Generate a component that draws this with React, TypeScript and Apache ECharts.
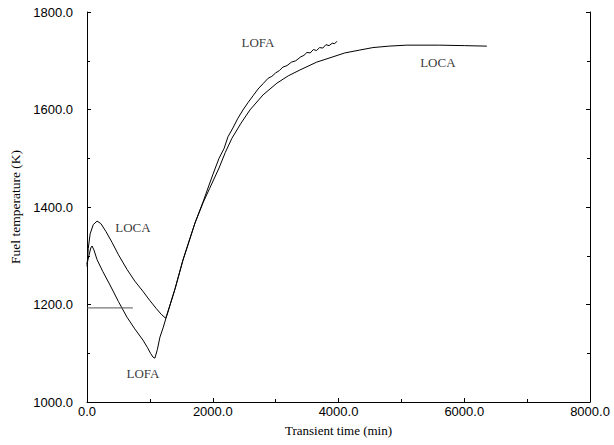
import React, { useEffect, useRef } from "react";
import * as echarts from "echarts";

const lofaTime = [0, 30, 60, 80, 110, 160, 250, 366, 500, 636, 760, 890, 960, 1010, 1050, 1080, 1120, 1160, 1210, 1270, 1400, 1526, 1717, 1850, 1908, 2000, 2100, 2180, 2242, 2320, 2400, 2480, 2560, 2640, 2720, 2800, 2880, 2940, 3000, 3060, 3116, 3180, 3250, 3320, 3400, 3450, 3498, 3550, 3600, 3650, 3700, 3750, 3800, 3850, 3900, 3940, 3975];
const lofaTemp = [1283, 1300, 1316, 1320, 1312, 1292, 1268, 1240, 1206, 1174, 1150, 1127, 1112, 1100, 1092, 1090, 1108, 1133, 1152, 1178, 1232, 1291, 1367, 1412, 1433, 1466, 1500, 1520, 1544, 1562, 1582, 1599, 1614, 1628, 1642, 1653, 1664, 1668, 1675, 1680, 1687, 1690, 1697, 1700, 1708, 1711, 1717, 1716, 1723, 1721, 1727, 1726, 1733, 1731, 1736, 1735, 1740];

const locaTime = [0, 20, 50, 100, 160, 220, 300, 400, 500, 636, 760, 890, 1000, 1100, 1180, 1250, 1270, 1400, 1526, 1717, 1850, 1950, 2100, 2200, 2305, 2450, 2591, 2800, 3020, 3200, 3386, 3650, 3911, 4100, 4340, 4547, 4800, 5087, 5612, 6000, 6359];
const locaTemp = [1278, 1315, 1345, 1364, 1371, 1366, 1350, 1327, 1302, 1272, 1248, 1227, 1208, 1192, 1180, 1172, 1178, 1232, 1291, 1367, 1410, 1438, 1480, 1512, 1541, 1572, 1599, 1630, 1654, 1669, 1681, 1697, 1708, 1716, 1722, 1727, 1730, 1732, 1732, 1731, 1730];

const refLineTime = [0, 730];
const refLineTemp = [1193, 1193];

const labelNames = ["LOFA", "LOCA", "LOCA", "LOFA"];
const labelTime = [2719, 5580, 731, 890];
const labelTemp = [1738, 1697, 1357, 1059];

const xTicks = { min: 0, max: 8000, interval: 2000 };
const yTicks = { min: 1000, max: 1800, interval: 200 };

const zip = (a: number[], b: number[]) => a.map((v, i) => [v, b[i]]);

export default function App() {
  const ref = useRef<HTMLDivElement>(null);
  useEffect(() => {
    if (!ref.current) return;
    const chart = echarts.init(ref.current, null, { renderer: "svg" });
    const tickFont = { color: "#000", fontFamily: "Liberation Sans, Arial, sans-serif", fontSize: 13 };
    const lineStyle = { color: "#000", width: 1 };
    chart.setOption({
      animation: false,
      backgroundColor: "#fff",
      grid: { left: 87, right: 24, top: 12, bottom: 43 },
      xAxis: {
        type: "value",
        min: xTicks.min,
        max: xTicks.max,
        interval: xTicks.interval,
        name: "Transient time (min)",
        nameLocation: "middle",
        nameGap: 22,
        nameTextStyle: { color: "#000", fontFamily: "Liberation Serif, Times New Roman, serif", fontSize: 13 },
        axisLine: { show: true, lineStyle },
        axisTick: { show: true, inside: true, length: 4, lineStyle },
        minorTick: { show: true, splitNumber: 2, length: 3, lineStyle },
        splitLine: { show: false },
        axisLabel: { ...tickFont, margin: 3, formatter: (v: number) => v.toFixed(1) },
      },
      yAxis: [
        {
          type: "value",
          min: yTicks.min,
          max: yTicks.max,
          interval: yTicks.interval,
          name: "Fuel temperature (K)",
          nameLocation: "middle",
          nameGap: 64,
          nameTextStyle: { color: "#000", fontFamily: "Liberation Serif, Times New Roman, serif", fontSize: 13.5 },
          axisLine: { show: true, lineStyle },
          axisTick: { show: true, inside: true, length: 4, lineStyle },
          minorTick: { show: true, splitNumber: 2, length: 3, lineStyle },
          splitLine: { show: false },
          axisLabel: { ...tickFont, margin: 14, formatter: (v: number) => v.toFixed(1) },
        },
        {
          type: "value",
          position: "right",
          min: yTicks.min,
          max: yTicks.max,
          interval: yTicks.interval,
          axisLine: { show: true, lineStyle },
          axisTick: { show: true, inside: true, length: 4, lineStyle },
          minorTick: { show: true, splitNumber: 2, length: 3, lineStyle },
          splitLine: { show: false },
          axisLabel: { show: false },
        },
      ],
      series: [
        { type: "line", data: zip(lofaTime, lofaTemp), showSymbol: false, lineStyle, itemStyle: { color: "#000" } },
        { type: "line", data: zip(locaTime, locaTemp), showSymbol: false, lineStyle, itemStyle: { color: "#000" } },
        { type: "line", data: zip(refLineTime, refLineTemp), showSymbol: false, lineStyle: { color: "#555", width: 1 } },
        {
          type: "scatter",
          symbolSize: 0,
          data: labelNames.map((n, i) => ({ name: n, value: [labelTime[i], labelTemp[i]] })),
          label: {
            show: true,
            position: "inside",
            formatter: (p: any) => p.name,
            color: "#000",
            fontFamily: "Liberation Serif, Times New Roman, serif",
            fontSize: 13,
          },
        },
      ],
    });
    return () => chart.dispose();
  }, []);
  return <div ref={ref} style={{ width: 614, height: 445, position: "absolute", left: 0, top: 0 }} />;
}
